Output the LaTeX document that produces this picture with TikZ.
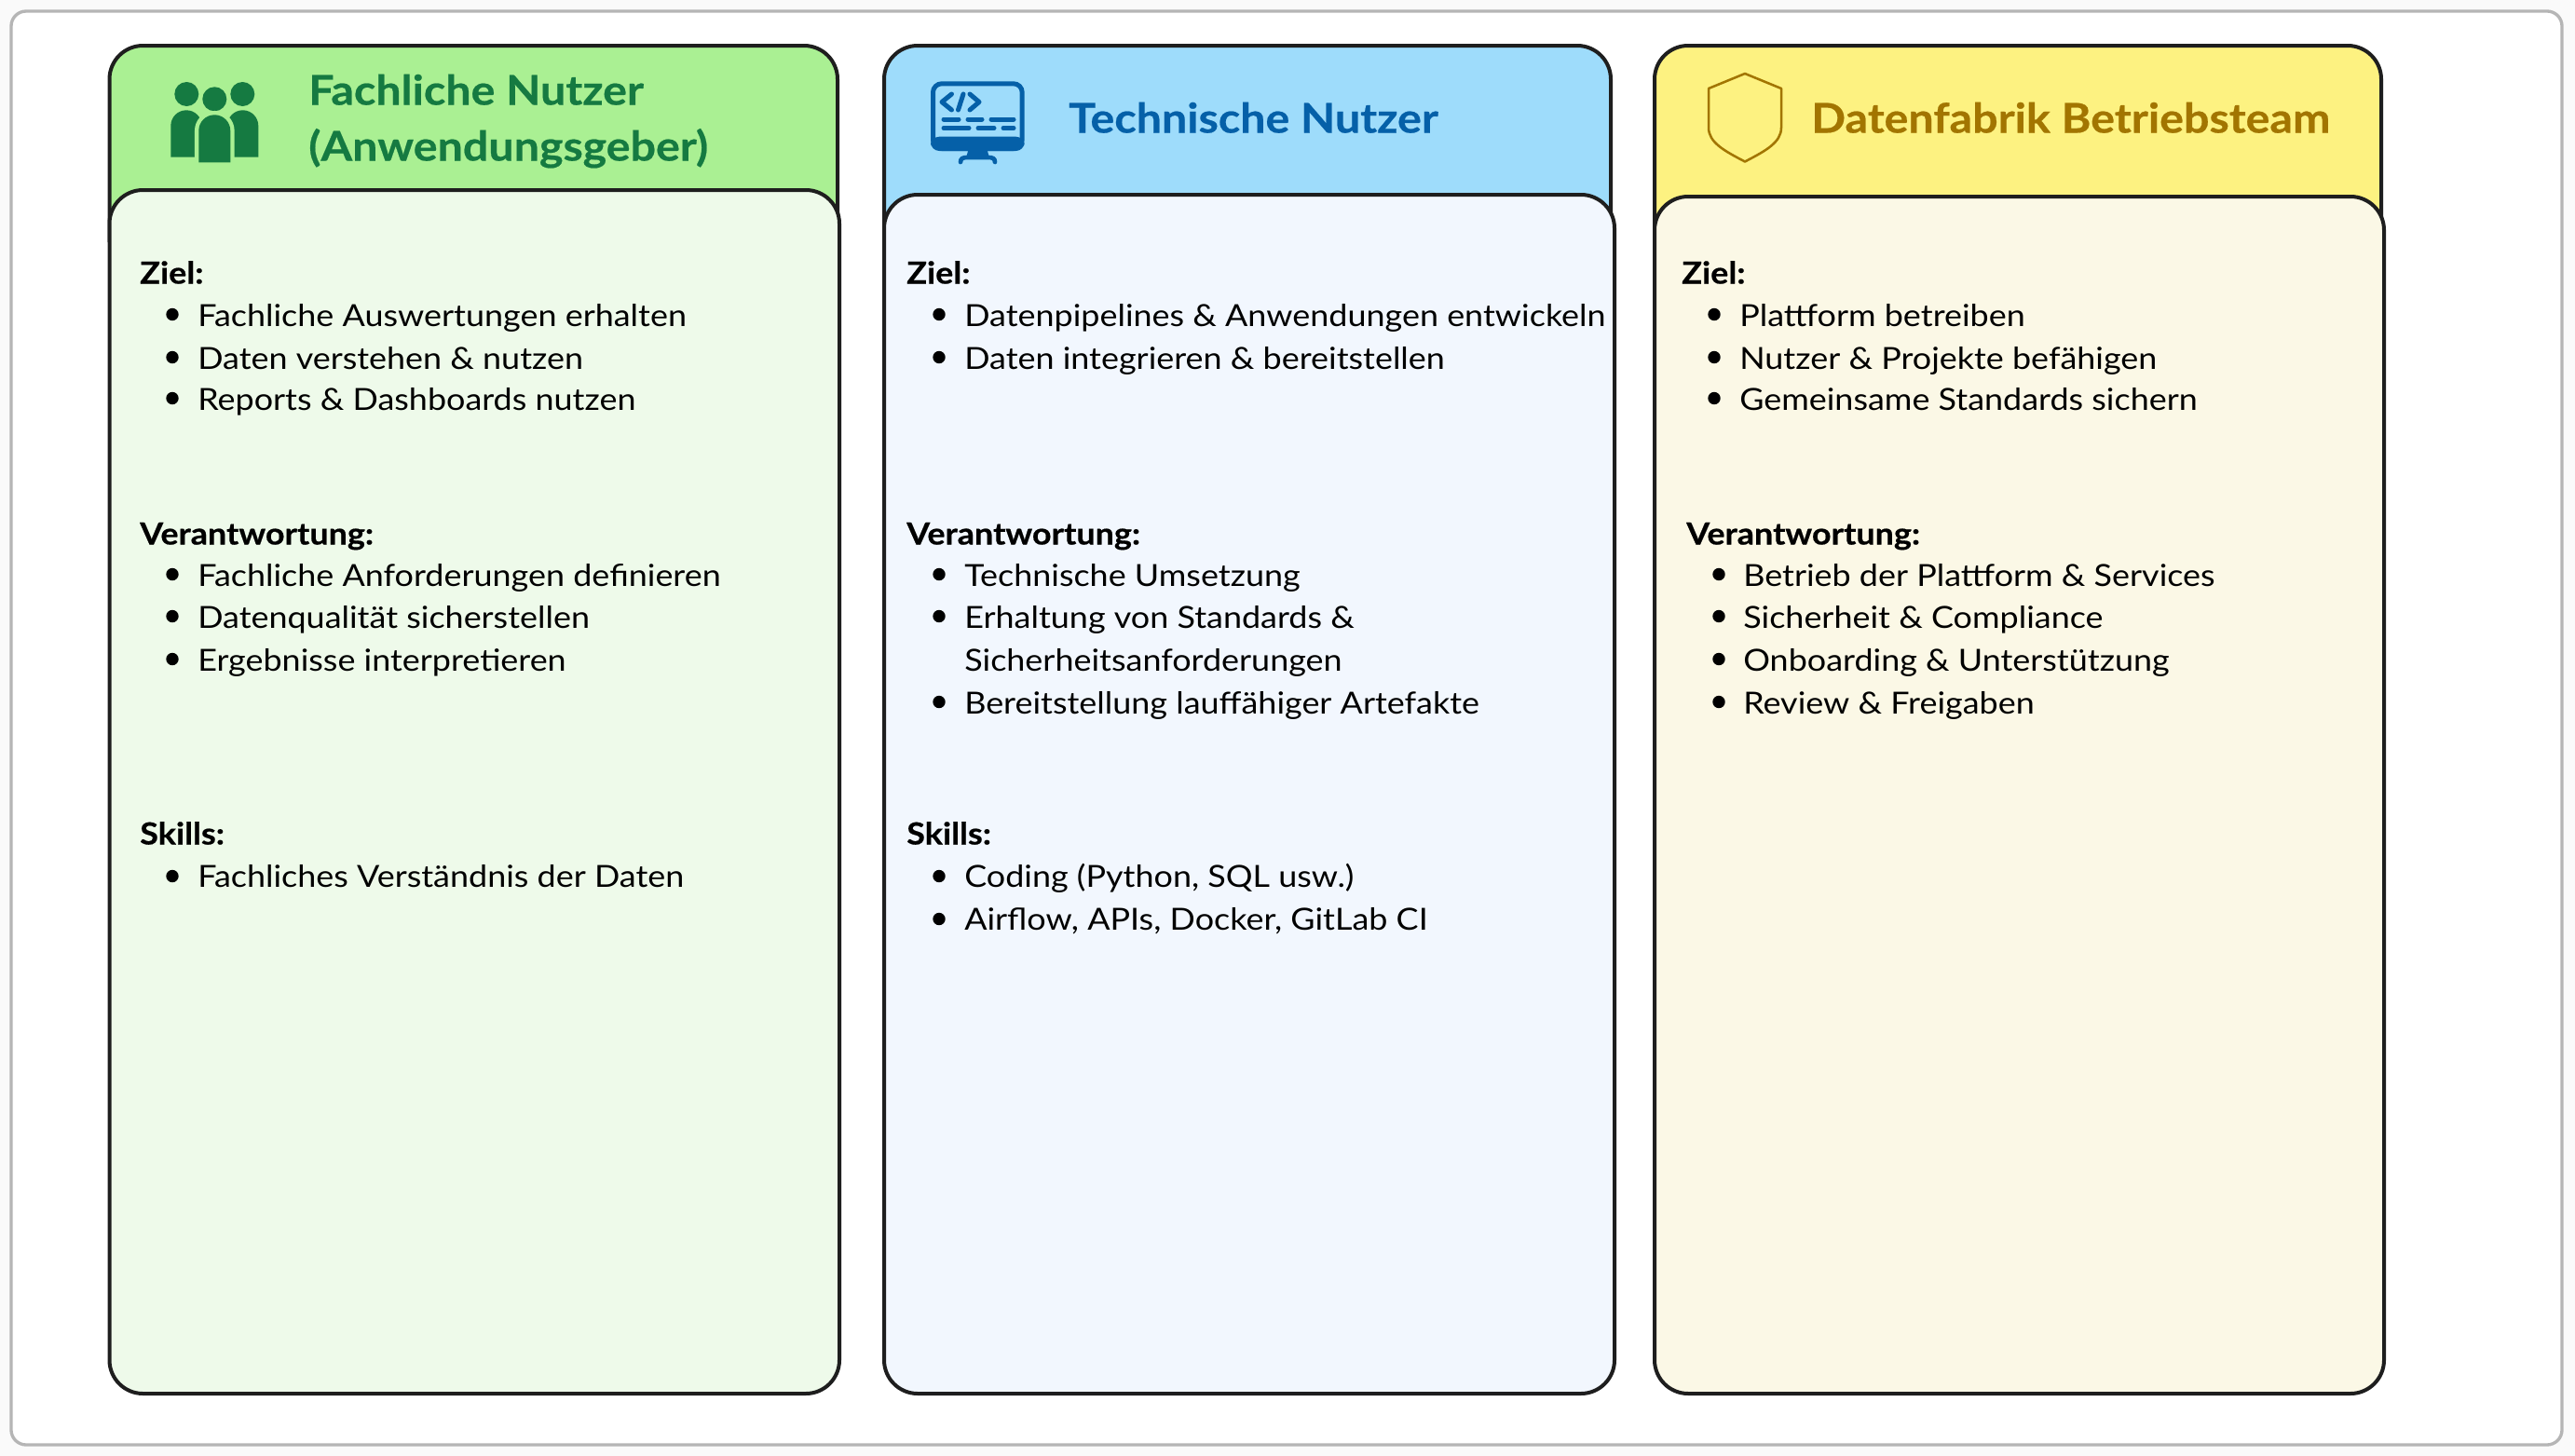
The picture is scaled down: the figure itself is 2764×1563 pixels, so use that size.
\documentclass[tikz,border=0pt]{standalone}
\usepackage{fontspec}
\setmainfont[FakeStretch=1.1,BoldFeatures={FakeBold=0.5}]{Lato}
\definecolor{frameline}{HTML}{B5B5B5}
\definecolor{pagebg}{HTML}{FAFAFA}
\definecolor{boxline}{HTML}{1E1E1E}
\definecolor{greenhead}{HTML}{AAF093}
\definecolor{greenbody}{HTML}{EEFAEA}
\definecolor{greenink}{HTML}{157A41}
\definecolor{bluehead}{HTML}{9EDCFB}
\definecolor{bluebody}{HTML}{F2F7FE}
\definecolor{blueink}{HTML}{0560A8}
\definecolor{yellowhead}{HTML}{FDF281}
\definecolor{yellowbody}{HTML}{FBF8E6}
\definecolor{yellowink}{HTML}{A27500}
\tikzset{
  box/.style={draw=boxline,line width=3pt,rounded corners=27pt},
  titletext/.style={anchor=base west,inner sep=0pt,font=\fontsize{33}{40}\selectfont\bfseries},
  headtext/.style={anchor=base west,inner sep=0pt,font=\fontsize{24.5}{30}\selectfont\bfseries},
  itemtext/.style={anchor=base west,inner sep=0pt,font=\fontsize{24.5}{30}\selectfont},
}
\begin{document}
\begin{tikzpicture}[x=0.75pt,y=0.75pt,yscale=-1,xscale=1]
\useasboundingbox (0,0) rectangle (2764,1563);
\fill [pagebg] (0,0) rectangle (2764,1563);
%Outer frame
\draw [draw=frameline,fill=white,line width=2.5pt,rounded corners=12pt] (12,12) rectangle (2750,1551);

%Green column
\draw [box,fill=greenhead] (117.5,260) -- (117.5,49) -- (899,49) -- (899,260);
\draw [box,fill=greenbody] (117.5,204) rectangle (901,1496);
%Blue column
\draw [box,fill=bluehead] (949,260) -- (949,49) -- (1729,49) -- (1729,260);
\draw [box,fill=bluebody] (949,209) rectangle (1733,1496);
%Yellow column
\draw [box,fill=yellowhead] (1776,260) -- (1776,49) -- (2556,49) -- (2556,260);
\draw [box,fill=yellowbody] (1776,211) rectangle (2559,1496);

%Icon people
\fill [greenink] (200.3,101) circle (13);
\fill [greenink] (260.3,101) circle (13);
\fill [greenink] (230.3,106.3) circle (13);
\fill [greenink] (183.3,168.7) -- (183.3,135) arc [start angle=180,end angle=360,radius=16.7] -- (216.7,168.7) -- cycle;
\fill [greenink] (277.3,168.7) -- (277.3,135) arc [start angle=0,end angle=-180,radius=16.7] -- (243.9,168.7) -- cycle;
\draw [draw=greenhead,fill=greenink,line width=6.5pt] (213.3,174.3) -- (213.3,140.3) arc [start angle=180,end angle=360,radius=17] -- (247.3,174.3) -- cycle;
\fill [greenink] (213.3,174.3) -- (213.3,140.3) arc [start angle=180,end angle=360,radius=17] -- (247.3,174.3) -- cycle;

%Icon monitor
\draw [draw=blueink,line width=3.75pt,rounded corners=7pt] (1001.5,89.8) rectangle (1097.2,159.5);
\fill [blueink,rounded corners=7pt] (999,146.7) -- (999,162) -- (1099.7,162) -- (1099.7,146.7) -- cycle;
\fill [blueink] (1039.5,160) -- (1059.5,160) -- (1062,170) -- (1037,170) -- cycle;
\draw [draw=blueink,line width=3.5pt,line cap=round] (1031,174) .. controls (1031,170) and (1034,169) .. (1038,169) -- (1061,169) .. controls (1065,169) and (1068,170) .. (1068,174);
\draw [draw=blueink,line width=3.75pt,line cap=round,line join=round] (1021.5,101) -- (1011,109.5) -- (1021.5,118);
\draw [draw=blueink,line width=3.75pt,line cap=round] (1034,101) -- (1028.5,118);
\draw [draw=blueink,line width=3.75pt,line cap=round,line join=round] (1041,101) -- (1051,109.5) -- (1041,118);
\foreach \a/\b/\c in {1013/1029/128,1039/1054/128,1064/1088/128,1013/1040/137.5,1050/1067/137.5,1077/1088/137.5}
  \draw [draw=blueink,line width=3.75pt,line cap=round] (\a,\c) -- (\b,\c);

%Icon shield
\draw [draw=yellowink,line width=1.9pt,line join=round] (1873,79) -- (1912,95) -- (1912,137) .. controls (1912,153) and (1895,162) .. (1873,173.5) .. controls (1851,162) and (1834,153) .. (1834,137) -- (1834,95) -- cycle;

%Titles
\node (greentitleA) [titletext,text=greenink] at (331,112.5) {Fachliche Nutzer};
\node (greentitleB) [titletext,text=greenink] at (331,172.5) {(Anwendungsgeber)};
\node (bluetitle) [titletext,text=blueink] at (1147,142.5) {Technische Nutzer};
\node (yellowtitle) [titletext,text=yellowink] at (1944,142.5) {Datenfabrik Betriebsteam};

%Bullets
\foreach \y in {337.5,383.5,427.5,616.5,661.5,707.5,940.5}
  \fill (185,\y) circle (6.7);
\foreach \y in {337.5,383.5,616.5,661.5,753.5,940.5,986.5}
  \fill (1008,\y) circle (6.7);
\foreach \y in {337.5,383.5,427.5}
  \fill (1840,\y) circle (6.7);
\foreach \y in {616.5,661.5,707.5,753.5}
  \fill (1845,\y) circle (6.7);

% Text Node
\node (greenZiel) [headtext] at (150,304.5) {Ziel:};
\node (greenZielA) [itemtext] at (212,350) {Fachliche Auswertungen erhalten};
\node (greenZielB) [itemtext] at (212,396) {Daten verstehen \& nutzen};
\node (greenZielC) [itemtext] at (212,440.5) {Reports \& Dashboards nutzen};
\node (greenVer) [headtext] at (150,584.5) {Verantwortung:};
\node (greenVerA) [itemtext] at (212,629.5) {Fachliche Anforderungen definieren};
\node (greenVerB) [itemtext] at (212,674.5) {Datenqualität sicherstellen};
\node (greenVerC) [itemtext] at (212,720) {Ergebnisse interpretieren};
\node (greenSkills) [headtext] at (150,906.5) {Skills:};
\node (greenSkillsA) [itemtext] at (212,952.5) {Fachliches Verständnis der Daten};

% Text Node
\node (blueZiel) [headtext] at (973,304.5) {Ziel:};
\node (blueZielA) [itemtext] at (1035,350) {Datenpipelines \& Anwendungen entwickeln};
\node (blueZielB) [itemtext] at (1035,396) {Daten integrieren \& bereitstellen};
\node (blueVer) [headtext] at (973,584.5) {Verantwortung:};
\node (blueVerA) [itemtext] at (1035,629.5) {Technische Umsetzung};
\node (blueVerB) [itemtext] at (1035,674.5) {Erhaltung von Standards \&};
\node (blueVerC) [itemtext] at (1035,720) {Sicherheitsanforderungen};
\node (blueVerD) [itemtext] at (1035,766) {Bereitstellung lauffähiger Artefakte};
\node (blueSkills) [headtext] at (973,906.5) {Skills:};
\node (blueSkillsA) [itemtext] at (1035,952.5) {Coding (Python, SQL usw.)};
\node (blueSkillsB) [itemtext] at (1035,998.5) {Airflow, APIs, Docker, GitLab CI};

% Text Node
\node (yellowZiel) [headtext] at (1805,304.5) {Ziel:};
\node (yellowZielA) [itemtext] at (1867,350) {Plattform betreiben};
\node (yellowZielB) [itemtext] at (1867,396) {Nutzer \& Projekte befähigen};
\node (yellowZielC) [itemtext] at (1867,440.5) {Gemeinsame Standards sichern};
\node (yellowVer) [headtext] at (1810,584.5) {Verantwortung:};
\node (yellowVerA) [itemtext] at (1871,629.5) {Betrieb der Plattform \& Services};
\node (yellowVerB) [itemtext] at (1871,674.5) {Sicherheit \& Compliance};
\node (yellowVerC) [itemtext] at (1871,720) {Onboarding \& Unterstützung};
\node (yellowVerD) [itemtext] at (1871,766) {Review \& Freigaben};

\end{tikzpicture}
\end{document}
